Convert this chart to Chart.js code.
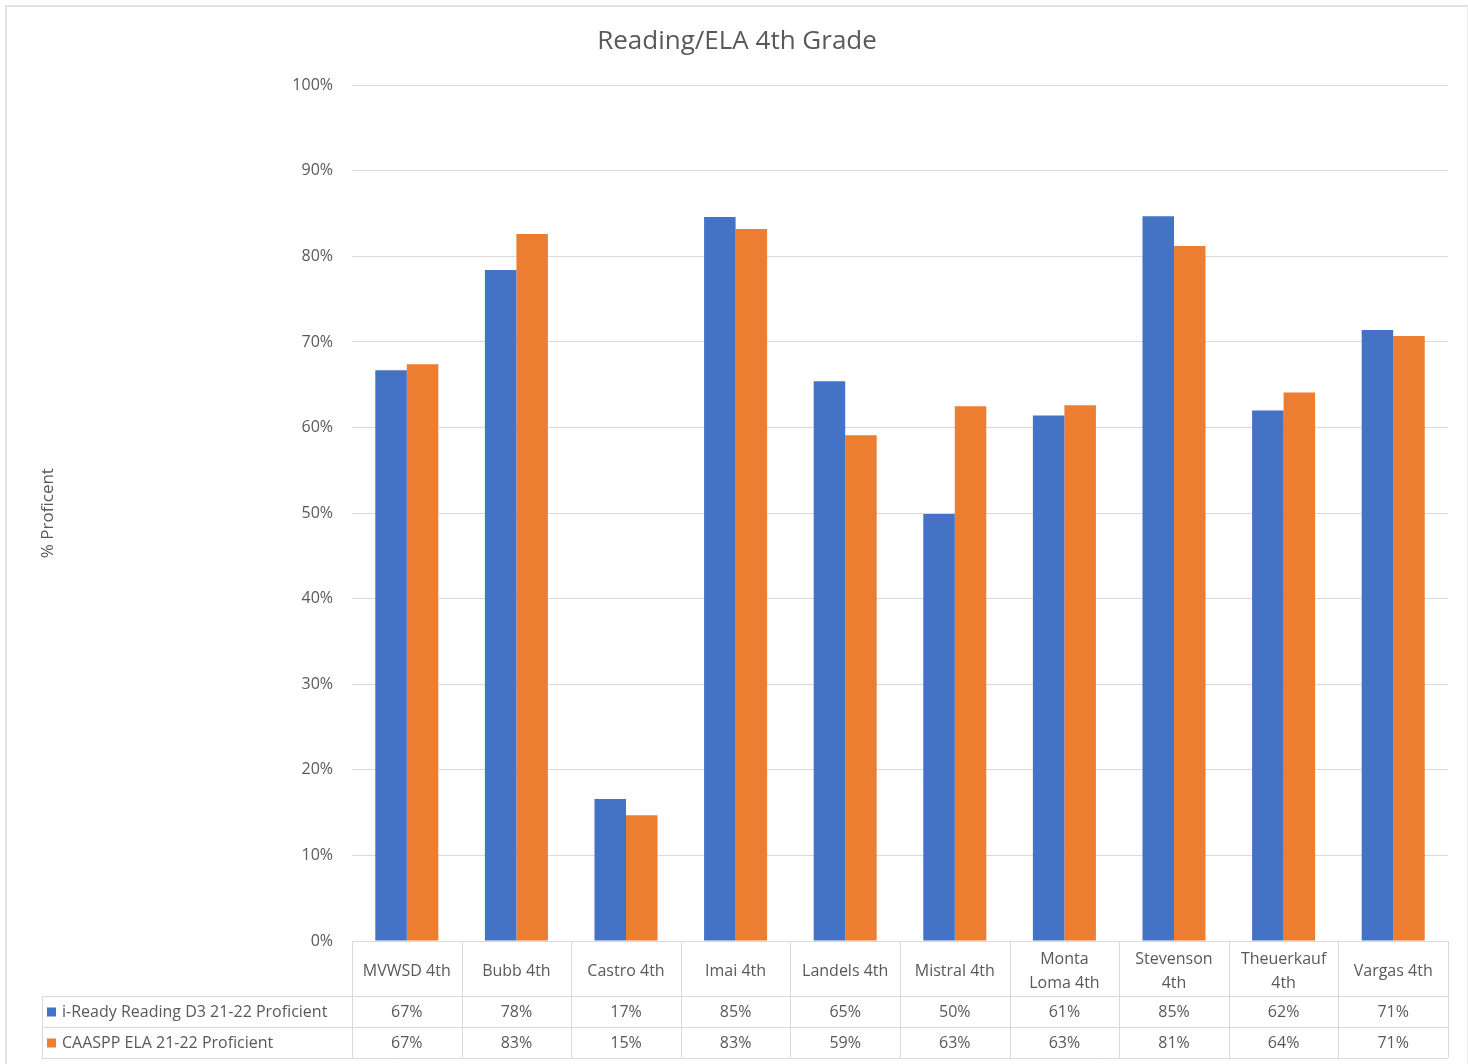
<!DOCTYPE html>
<html lang="en">
<head>
    <meta charset="UTF-8">
    <title>Reading/ELA 4th Grade</title>
    <script src="https://cdn.jsdelivr.net/npm/chart.js"></script>
    <style>
        body { margin: 0; background: #fff; overflow: hidden; }
        .frame {
            position: absolute;
            left: 5px; top: 5px;
            width: 1460px; height: 1070px;
            border-left: 2px solid #e2e2e2;
            border-top: 2px solid #e2e2e2;
            border-right: 2px solid #ececec;
        }
        .wrap { position: absolute; left: 0; top: 0; width: 1468px; height: 1064px; }
    </style>
</head>
<body>
    <div class="frame"></div>
    <div class="wrap"><canvas id="elaChart"></canvas></div>

    <script>
        // schools along the x axis (arrays = wrapped lines like in the original)
        const schools = ['MVWSD 4th', 'Bubb 4th', 'Castro 4th', 'Imai 4th', 'Landels 4th',
                         'Mistral 4th', ['Monta', 'Loma 4th'], ['Stevenson', '4th'], ['Theuerkauf', '4th'], 'Vargas 4th'];
        const iReady = [66.7, 78.4, 16.6, 84.6, 65.4, 49.9, 61.4, 84.7, 62.0, 71.4];
        const caaspp = [67.4, 82.6, 14.7, 83.2, 59.1, 62.5, 62.6, 81.2, 64.1, 70.7];
        const seriesNames = ['i-Ready Reading D3 21-22 Proficient', 'CAASPP ELA 21-22 Proficient'];
        const seriesColors = ['#4472C4', '#ED7D31'];

        const txt = '#595959';
        const lineCol = '#d9d9d9';
        const fontFam = '"Open Sans", "Liberation Sans", sans-serif';

        // data table under the plot (Excel style), drawn off the x scale
        const dataTable = {
            id: 'dataTable',
            afterDraw(chart) {
                const ctx = chart.ctx;
                const xs = chart.scales.x;
                const area = chart.chartArea;
                const bottom = xs.bottom;
                const rowH = 31;
                const rows = [bottom - 2 * rowH, bottom - rowH, bottom];
                const legendLeft = 42;
                const n = schools.length;
                const step = (area.right - area.left) / n;

                ctx.save();
                ctx.strokeStyle = lineCol;
                ctx.lineWidth = 1;
                ctx.beginPath();
                // horizontal lines
                rows.forEach(y => {
                    ctx.moveTo(legendLeft, Math.round(y) + 0.5);
                    ctx.lineTo(area.right, Math.round(y) + 0.5);
                });
                // vertical lines
                for (let i = 0; i <= n; i++) {
                    const x = Math.round(area.left + i * step) + 0.5;
                    ctx.moveTo(x, area.bottom);
                    ctx.lineTo(x, bottom);
                }
                ctx.moveTo(legendLeft + 0.5, rows[0]);
                ctx.lineTo(legendLeft + 0.5, bottom);
                ctx.stroke();

                ctx.font = '16px ' + fontFam;
                ctx.fillStyle = txt;
                ctx.textBaseline = 'middle';
                const sets = [iReady, caaspp];
                sets.forEach((vals, r) => {
                    const cy = (r === 0 ? (rows[0] + rows[1]) : (rows[1] + rows[2])) / 2 + 1;
                    ctx.textAlign = 'center';
                    ctx.fillStyle = txt;
                    vals.forEach((v, i) => {
                        ctx.fillText(Math.round(v) + '%', xs.getPixelForValue(i), cy);
                    });
                    ctx.fillStyle = seriesColors[r];
                    ctx.fillRect(legendLeft + 5, cy - 5, 9, 9);
                    ctx.fillStyle = txt;
                    ctx.textAlign = 'left';
                    ctx.fillText(seriesNames[r], legendLeft + 20, cy);
                });
                ctx.restore();
            }
        };

        const chart = new Chart(document.getElementById('elaChart'), {
            type: 'bar',
            data: {
                labels: schools,
                datasets: [
                    { label: seriesNames[0], data: iReady, backgroundColor: seriesColors[0] },
                    { label: seriesNames[1], data: caaspp, backgroundColor: seriesColors[1] }
                ]
            },
            options: {
                responsive: true,
                maintainAspectRatio: false,
                animation: false,
                datasets: { bar: { categoryPercentage: 0.575, barPercentage: 1.0 } },
                layout: { padding: { left: 26, right: 20, top: 6, bottom: 6 } },
                scales: {
                    x: {
                        grid: { display: false },
                        border: { display: true, color: lineCol },
                        ticks: {
                            color: txt,
                            font: { family: fontFam, size: 16, lineHeight: 1.5 },
                            maxRotation: 0,
                            autoSkip: false,
                            crossAlign: 'center',
                            padding: 10
                        },
                        afterFit(scale) { scale.height = 117; }
                    },
                    y: {
                        min: 0,
                        max: 100,
                        ticks: {
                            stepSize: 10,
                            color: txt,
                            padding: 19,
                            font: { family: fontFam, size: 16 },
                            callback: v => v + '%'
                        },
                        grid: { color: lineCol, drawTicks: false },
                        border: { display: false },
                        title: {
                            display: true,
                            text: '% Proficent',
                            color: txt,
                            font: { family: fontFam, size: 17 },
                            padding: { top: 12, bottom: 0 }
                        },
                        afterFit(scale) { scale.width = 352 - 26; }
                    }
                },
                plugins: {
                    legend: { display: false },
                    tooltip: { enabled: false },
                    title: {
                        display: true,
                        text: 'Reading/ELA 4th Grade',
                        color: txt,
                        font: { family: fontFam, size: 26, weight: 'normal' },
                        padding: { top: 20, bottom: 28 }
                    }
                }
            },
            plugins: [dataTable]
        });
    </script>
</body>
</html>
